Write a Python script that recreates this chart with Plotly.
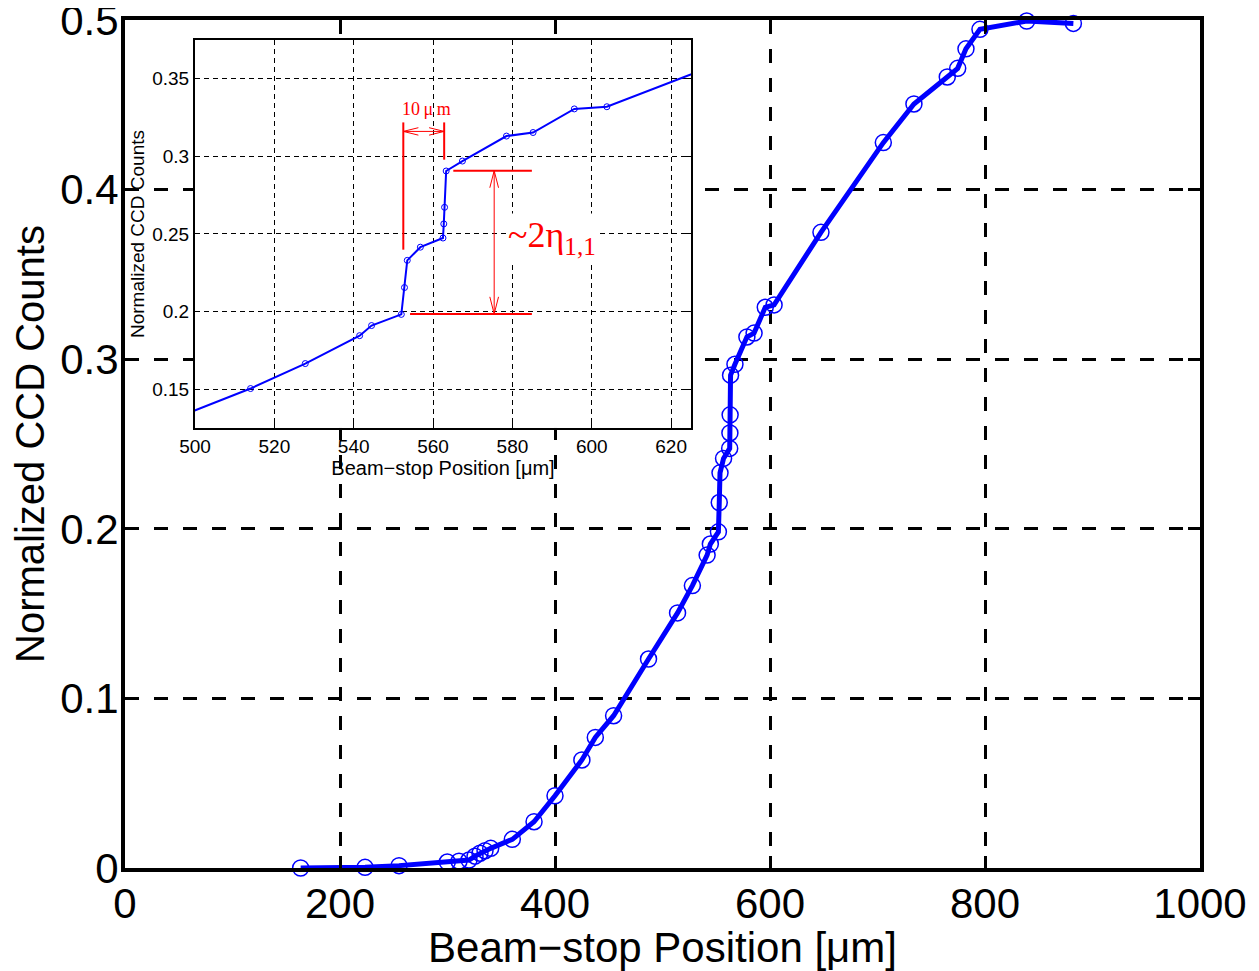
import plotly.graph_objects as go

# Beam-stop position [um] and normalized CCD counts
pos_um = [163.4, 223.3, 254.9, 299.8, 310.7, 320.0, 325.6, 330.2, 334.9, 340.2,
          360.3, 380.5, 400.0, 425.0, 437.5, 454.5, 487.0, 514.0, 527.8, 541.5,
          544.5, 552.0, 552.8, 553.5, 556.8, 562.5, 562.7, 562.9, 563.3, 567.4,
          578.5, 585.2, 595.6, 603.8, 647.4, 705.4, 733.9, 764.9, 774.6, 782.3,
          795.3, 838.8, 882.2]
ccd_counts = [0.0, 0.0004, 0.0014, 0.0035, 0.0040, 0.0047, 0.0070, 0.0087, 0.0102, 0.0116,
              0.0169, 0.0273, 0.0426, 0.0637, 0.0770, 0.0898, 0.1232, 0.1504, 0.1665, 0.1845,
              0.1910, 0.1982, 0.2155, 0.2330, 0.2415, 0.2474, 0.2565, 0.2672, 0.2906, 0.2970,
              0.3131, 0.3154, 0.3306, 0.3320, 0.3748, 0.4277, 0.4505, 0.4664, 0.4715, 0.4830,
              0.4945, 0.4994, 0.4980]

main_xticks = [0, 200, 400, 600, 800, 1000]
main_yticks = [0, 0.1, 0.2, 0.3, 0.4, 0.5]
main_yticklabels = ["0", "0.1", "0.2", "0.3", "0.4", "0.5"]
inset_xticks = [500, 520, 540, 560, 580, 600, 620]
inset_yticks = [0.15, 0.2, 0.25, 0.3, 0.35]
inset_yticklabels = ["0.15", "0.2", "0.25", "0.3", "0.35"]

# Annotation anchors in the inset (data units)
step_left, step_right = 552.5, 562.8      # 10 um marker
step_low, step_high = 0.1985, 0.2908      # ~2 eta_{1,1} step
arrow_x = 575.4
width_arrow_y = 0.3161

x_title = "Beam\u2212stop Position [\u03bcm]"
y_title = "Normalized CCD Counts"

SANS = "Liberation Sans, Arial, Helvetica, sans-serif"
SERIF = "Liberation Serif, Times New Roman, serif"
BLUE = "rgb(0,0,255)"
RED = "rgb(255,0,0)"

fig = go.Figure()

fig.add_trace(go.Scatter(
    x=pos_um, y=ccd_counts, mode="lines+markers",
    line=dict(color=BLUE, width=5),
    marker=dict(symbol="circle-open", size=16, color=BLUE, line=dict(width=1.5, color=BLUE)),
    cliponaxis=False, showlegend=False, xaxis="x", yaxis="y"))

fig.add_trace(go.Scatter(
    x=pos_um, y=ccd_counts, mode="lines+markers",
    line=dict(color=BLUE, width=2),
    marker=dict(symbol="circle-open", size=6, color=BLUE, line=dict(width=1, color=BLUE)),
    showlegend=False, xaxis="x2", yaxis="y2"))

main_axis = dict(showline=True, linewidth=4, linecolor="black", mirror="ticks",
                 ticks="inside", ticklen=12, tickwidth=3, tickcolor="black",
                 showgrid=True, gridcolor="black", gridwidth=3, griddash="14px,15px",
                 zeroline=False, ticklabeloverflow="allow",
                 tickfont=dict(family=SANS, size=42, color="black"))

inset_axis = dict(showline=True, linewidth=2, linecolor="black", mirror="ticks",
                  ticks="inside", ticklen=5, tickwidth=1, tickcolor="black",
                  showgrid=True, gridcolor="black", gridwidth=1, griddash="5px,4px",
                  zeroline=False, tickfont=dict(family=SANS, size=19, color="black"))

# The page body has an 8px margin, so the figure is sized to fit the window.
fig.update_layout(
    width=1251, height=963,
    margin=dict(l=117, r=59, t=12, b=103, autoexpand=False),
    paper_bgcolor="white", plot_bgcolor="white",
    xaxis=dict(main_axis, range=[0, 1000], tickvals=main_xticks, domain=[0, 1],
               ticklabelstandoff=-4,
               title=dict(text=x_title, font=dict(family=SANS, size=42, color="black"), standoff=10)),
    yaxis=dict(main_axis, range=[0, 0.5], tickvals=main_yticks, ticktext=main_yticklabels,
               domain=[0, 1], ticklabelstandoff=-6,
               title=dict(text=y_title, font=dict(family=SANS, size=40, color="black"), standoff=12)),
    xaxis2=dict(inset_axis, range=[500, 625], tickvals=inset_xticks,
                domain=[0.0651, 0.5265], anchor="y2",
                title=dict(text=x_title, font=dict(family=SANS, size=20, color="black"), standoff=0)),
    yaxis2=dict(inset_axis, range=[0.125, 0.375], tickvals=inset_yticks,
                ticktext=inset_yticklabels, domain=[0.5189, 0.9764], anchor="x2",
                title=dict(text=y_title, font=dict(family=SANS, size=19, color="black"), standoff=3)),
)

# Red markup inside the inset
seg = dict(type="line", xref="x2", yref="y2", line=dict(color=RED, width=2))
fig.add_shape(seg, x0=step_left, x1=step_left, y0=0.2399, y1=0.3219)
fig.add_shape(seg, x0=step_right, x1=step_right, y0=0.2979, y1=0.3219)
fig.add_shape(seg, x0=565.1, x1=584.9, y0=step_high, y1=step_high)
fig.add_shape(seg, x0=554.2, x1=584.9, y0=step_low, y1=step_low)

thin = dict(type="path", xref="x2", yref="y2", line=dict(color=RED, width=1))
# horizontal double arrow (10 um)
hx, hy = 3.8, 0.0024
fig.add_shape(thin, path=f"M{step_left},{width_arrow_y} L{step_right},{width_arrow_y}")
fig.add_shape(thin, path=(f"M{step_left + hx},{width_arrow_y + hy} L{step_left},{width_arrow_y} "
                          f"L{step_left + hx},{width_arrow_y - hy}"))
fig.add_shape(thin, path=(f"M{step_right - hx},{width_arrow_y + hy} L{step_right},{width_arrow_y} "
                          f"L{step_right - hx},{width_arrow_y - hy}"))
# vertical double arrow (step height)
vx, vy = 1.1, 0.011
fig.add_shape(thin, path=f"M{arrow_x},{step_low} L{arrow_x},{step_high}")
fig.add_shape(thin, path=(f"M{arrow_x - vx},{step_high - vy} L{arrow_x},{step_high} "
                          f"L{arrow_x + vx},{step_high - vy}"))
fig.add_shape(thin, path=(f"M{arrow_x - vx},{step_low + vy} L{arrow_x},{step_low} "
                          f"L{arrow_x + vx},{step_low + vy}"))

fig.add_annotation(xref="x2", yref="y2", x=558.4, y=0.3307, text="10\u2009\u03bc\u2009m",
                   showarrow=False, font=dict(family=SERIF, size=18, color=RED))
fig.add_annotation(xref="x2", yref="y2", x=578.4, y=0.2476, xanchor="left", yanchor="middle",
                   text="~2\u03b7<sub>1,1</sub>", showarrow=False, bgcolor="white",
                   font=dict(family=SERIF, size=36, color=RED))

fig.write_html("out.html")
